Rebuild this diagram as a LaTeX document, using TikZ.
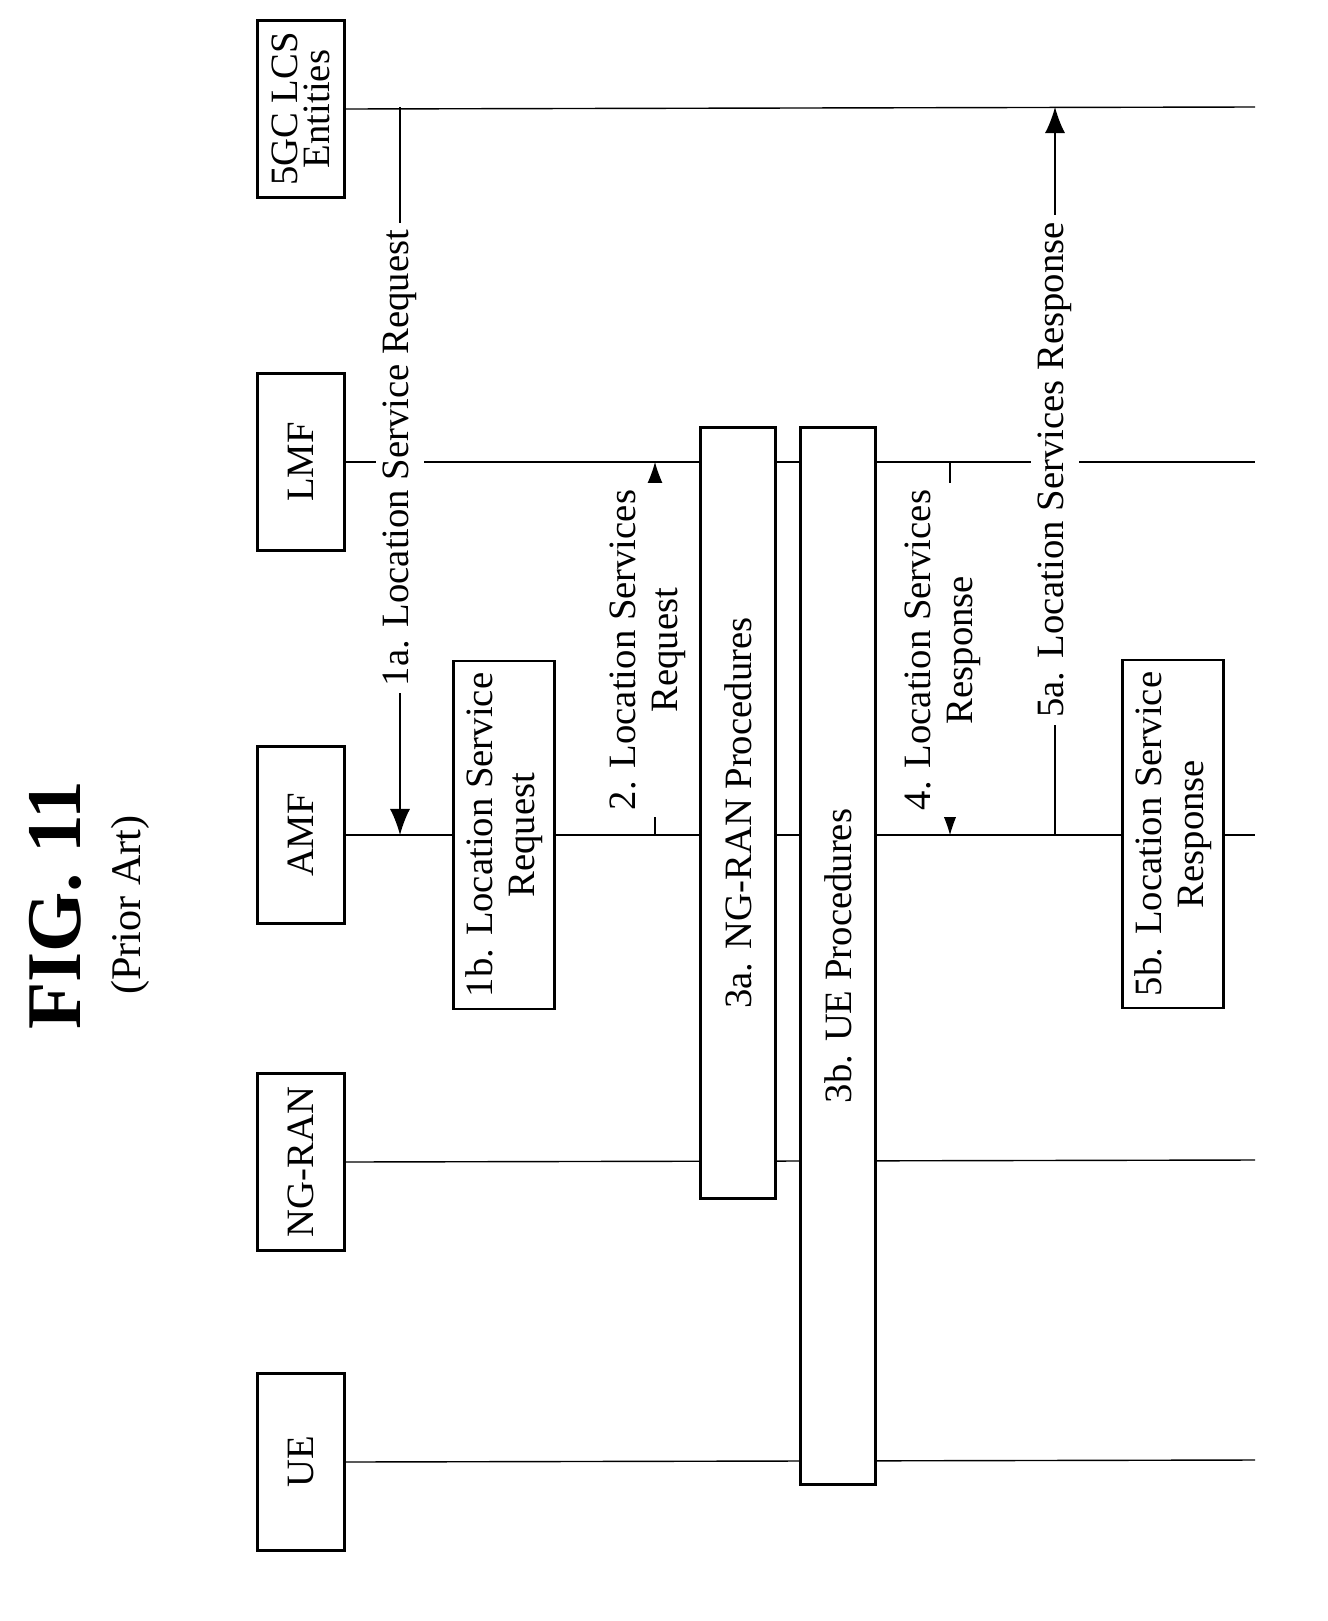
\documentclass[tikz,border=0pt]{standalone}
\usepackage{fontspec}
\setmainfont{Liberation Serif}
\usetikzlibrary{arrows.meta}
\tikzset{>={Latex[width=2mm,length=2.6mm]}}

\begin{document}
\begin{tikzpicture}[x=0.01cm, y=-0.01cm,
  entity/.style={draw=black, thick, rotate=90, minimum width=1.77cm, minimum height=0.87cm, align=center, font=\fontsize{11}{11}\selectfont, inner sep=1pt},
  proc/.style={draw=black, thick, fill=white, rotate=90, minimum height=0.75cm, align=center, font=\fontsize{11}{12}\selectfont},
  note/.style={draw=black, thick, fill=white, rotate=90, minimum width=3.1cm, minimum height=1cm, align=center, font=\fontsize{11}{12}\selectfont},
  msg/.style={fill=white, rotate=90, align=center, font=\fontsize{11}{12}\selectfont, inner sep=2pt},
  life/.style={thin}]

    \useasboundingbox (0,0) rectangle (1327,1621);

    %Title
    \node[rotate=90, font=\bfseries\fontsize{22}{22}\selectfont](fig) at (55,905){FIG. 11};
    \node[rotate=90, font=\fontsize{12}{12}\selectfont](prior) at (130,905){(Prior Art)};

    %Entities
    \node[entity](fivegc) at (301,109){5GC LCS\\[-2pt]Entities};
    \node[entity](lmf) at (301,462){LMF};
    \node[entity](amf) at (301,835){AMF};
    \node[entity](ngran) at (301,1162){NG-RAN};
    \node[entity](ue) at (301,1462){UE};

    %Lifelines
    \coordinate (fivegc_end) at (1255,107);
    \coordinate (lmf_end) at (1255,462);
    \coordinate (amf_end) at (1255,835);
    \coordinate (ngran_end) at (1255,1160);
    \coordinate (ue_end) at (1255,1460);
    \draw[life] (fivegc.south) -- (fivegc_end);
    \draw[life] (lmf.south) -- (lmf_end);
    \draw[life] (amf.south) -- (amf_end);
    \draw[life] (ngran.south) -- (ngran_end);
    \draw[life] (ue.south) -- (ue_end);

    %Messages
    \coordinate (m1a_from) at (400,107);
    \coordinate (m1a_to) at (400,835);
    \coordinate (m2_from) at (655,835);
    \coordinate (m2_to) at (655,462);
    \coordinate (m4_from) at (950,462);
    \coordinate (m4_to) at (950,835);
    \coordinate (m5a_from) at (1055,835);
    \coordinate (m5a_to) at (1055,107);
    \draw[->] (m1a_from) -- (m1a_to);
    \draw[->] (m2_from) -- (m2_to);
    \draw[->] (m4_from) -- (m4_to);
    \draw[->] (m5a_from) -- (m5a_to);
    \node[msg](m1a) at (400,458){1a. Location Service Request};
    \node[msg](m2) at (648,650){2. Location Services\\Request};
    \node[msg](m4) at (943,650){4. Location Services\\Response};
    \node[msg](m5a) at (1055,470){5a. Location Services Response};

    %Procedures
    \node[proc, minimum width=7.7cm](ngranproc) at (738,813){3a. NG-RAN Procedures};
    \node[proc, minimum width=10.57cm](ueproc) at (838,956){3b. UE Procedures};
    \node[note](req) at (504,835){1b. Location Service\\Request};
    \node[note](resp) at (1173,834){5b. Location Service\\Response};

\end{tikzpicture}
\end{document}
